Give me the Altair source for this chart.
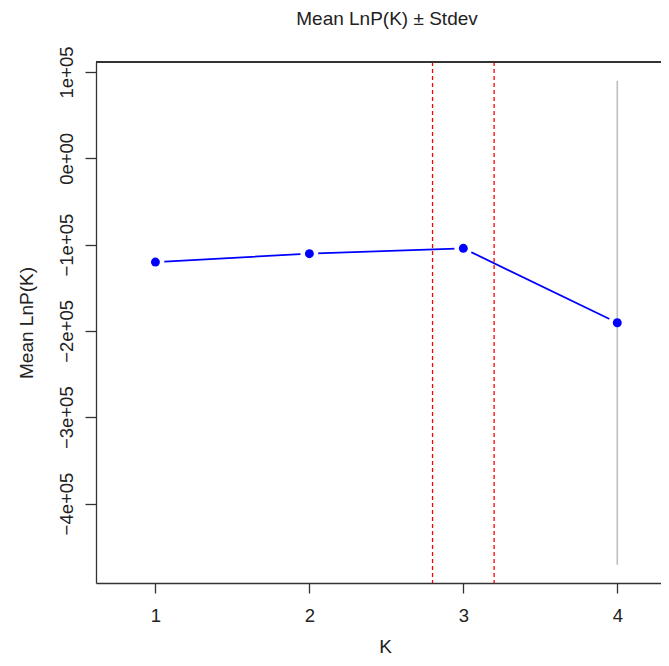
import altair as alt
import pandas as pd

# ---- data ----
K = [1, 2, 3, 4]
mean_lnp = [-120200, -110500, -104300, -190500]
stdev = [1500, 1200, 1000, 280500]
best_k_bounds = [2.8, 3.2]
y_ticks = [-400000, -300000, -200000, -100000, 0, 100000]
x_ticks = [1, 2, 3, 4]

df = pd.DataFrame({"K": K, "mean": mean_lnp, "sd": stdev})
df["lo"] = df["mean"] - df["sd"]
df["hi"] = df["mean"] + df["sd"]
vlines = pd.DataFrame({"K": best_k_bounds})

W, H = 565, 521
FONT = "Liberation Sans"
INK = "#222222"
AX = "#333333"

x_scale = alt.Scale(domain=[0.614, 4.284], nice=False, zero=False)
y_scale = alt.Scale(domain=[-492100, 111600], nice=False, zero=False)

x_axis = alt.Axis(
    values=x_ticks, title="K", format="d", grid=False,
    tickSize=10, tickColor=AX, tickWidth=1.3,
    domainColor=AX, domainWidth=1.3,
    labelPadding=13, labelFontSize=18.5, labelFont=FONT, labelColor=INK,
    labelFlush=False, labelBaseline="top",
    titleFontSize=19, titleFont=FONT, titleFontWeight="normal", titleColor=INK,
    titleX=289, titleY=69, titleBaseline="alphabetic", titleAlign="center",
)
y_axis = alt.Axis(
    values=y_ticks, title="Mean LnP(K)", grid=False,
    labelExpr="datum.value == 0 ? '0e+00' : (datum.value < 0 ? '\u2212' : '') + format(abs(datum.value)/100000, 'd') + 'e+05'",
    tickSize=11, tickColor=AX, tickWidth=1.3,
    domainColor=AX, domainWidth=1.3,
    labelAngle=270, labelAlign="center", labelBaseline="alphabetic",
    labelPadding=13, labelFontSize=18.5, labelFont=FONT, labelColor=INK,
    labelFlush=False, labelOverlap=False,
    titleFontSize=19, titleFont=FONT, titleFontWeight="normal", titleColor=INK,
    titleAngle=270, titleX=-64, titleY=260.5, titleAlign="center",
    titleBaseline="alphabetic",
)

x_enc = alt.X("K:Q", scale=x_scale, axis=x_axis)
y_enc = alt.Y("mean:Q", scale=y_scale, axis=y_axis)

base = alt.Chart(df)

line = base.mark_line(color="#0000FF", strokeWidth=1.8).encode(x=x_enc, y=y_enc)
halo = base.mark_circle(size=320, color="white", opacity=1).encode(x=x_enc, y=y_enc)
errbar = base.mark_rule(color="#BEBEBE", strokeWidth=1.6).encode(
    x=x_enc, y=alt.Y("lo:Q", scale=y_scale, axis=y_axis), y2="hi:Q"
)
redlines = alt.Chart(vlines).mark_rule(
    color="#FF0000", strokeDash=[4, 3], strokeWidth=1.3
).encode(x=x_enc)
points = base.mark_circle(size=80, color="#0000FF", opacity=1).encode(x=x_enc, y=y_enc)
topborder = base.mark_rule(color=AX, strokeWidth=1.3).encode(
    x=alt.value(0), x2=alt.value(W), y=alt.value(0)
)

chart = alt.layer(line, halo, errbar, redlines, points, topborder).properties(
    width=W, height=H,
    autosize=alt.AutoSizeParams(type="none"),
    padding={"left": 88, "top": 54, "right": 0, "bottom": 75},
    title=alt.TitleParams(
        "Mean LnP(K) \u00b1 Stdev", fontSize=19, font=FONT, fontWeight="normal",
        color=INK, anchor="middle", dx=8.5, offset=2, baseline="alphabetic",
    ),
).configure_view(stroke=None)

chart.save("out.html", embed_options={"renderer": "svg", "actions": False})
